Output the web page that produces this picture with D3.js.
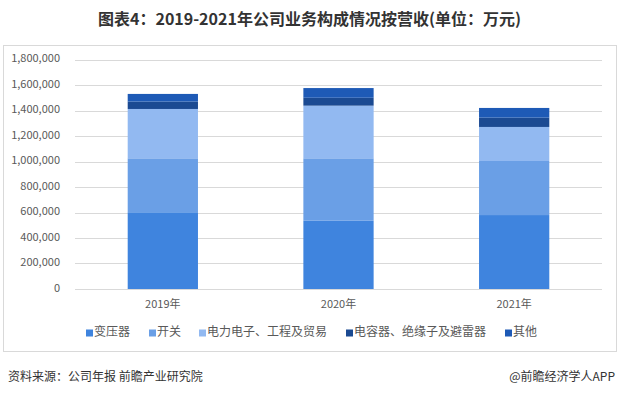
<!DOCTYPE html>
<html lang="zh">
  <head>
    <meta charset="UTF-8" />
    <title>图表4</title>
    <style>
      body { margin: 0; background: #fff; }
      svg text { font-family: "Microsoft YaHei", "Noto Sans CJK SC", sans-serif; }
    </style>
  </head>
  <body>
    <div class="chart"></div>
    <script src="https://d3js.org/d3.v7.min.js"></script>
    <script>
      // 数据（单位：万元）
      const years = ["2019年", "2020年", "2021年"];
      const seriesNames = ["变压器", "开关", "电力电子、工程及贸易", "电容器、绝缘子及避雷器", "其他"];
      const transformer = [602000, 535000, 580000];
      const switchgear = [423000, 490000, 424000];
      const powerElec = [387000, 413000, 267000];
      const capacitor = [58000, 62000, 73000];
      const others = [60000, 76000, 76000];
      const yTicks = [0, 200000, 400000, 600000, 800000, 1000000, 1200000, 1400000, 1600000, 1800000];
      const colors = ["#3f84de", "#6a9fe6", "#92b9f1", "#1b4a92", "#1e5ab6"];

      const rows = years.map((y, i) => ({
        year: y,
        [seriesNames[0]]: transformer[i],
        [seriesNames[1]]: switchgear[i],
        [seriesNames[2]]: powerElec[i],
        [seriesNames[3]]: capacitor[i],
        [seriesNames[4]]: others[i],
      }));

      const W = 619, H = 395;
      const svg = d3.select(".chart").append("svg").attr("width", W).attr("height", H);

      // 标题
      svg.append("text")
        .attr("x", W / 2).attr("y", 21)
        .attr("text-anchor", "middle").attr("dominant-baseline", "middle")
        .attr("font-size", 16).attr("font-weight", "bold").attr("fill", "#333")
        .text("图表4：2019-2021年公司业务构成情况按营收(单位：万元)");

      // 图表外框
      svg.append("rect")
        .attr("x", 3.5).attr("y", 45.5).attr("width", 613).attr("height", 306)
        .attr("fill", "none").attr("stroke", "#d9d9d9");

      const x = d3.scaleBand().domain(years).range([75, 602]).paddingInner(0.6).paddingOuter(0.3);
      const y = d3.scaleLinear().domain([0, 1800000]).range([289, 59.5]);

      // 网格线
      svg.append("g")
        .selectAll("line")
        .data(yTicks)
        .join("line")
        .attr("x1", 75).attr("x2", 602)
        .attr("y1", (d) => Math.round(y(d)) + 0.5).attr("y2", (d) => Math.round(y(d)) + 0.5)
        .attr("stroke", "#d9d9d9");

      // y 轴刻度
      const fmt = d3.format(",");
      svg.append("g")
        .selectAll("text")
        .data(yTicks)
        .join("text")
        .attr("x", 60).attr("y", (d) => y(d))
        .attr("text-anchor", "end").attr("dominant-baseline", "middle")
        .attr("font-size", 11).attr("fill", "#595959")
        .text((d) => fmt(d));

      // 堆叠柱
      const stack = d3.stack().keys(seriesNames)(rows);
      svg.append("g")
        .selectAll("g")
        .data(stack)
        .join("g")
        .attr("fill", (d, i) => colors[i])
        .selectAll("rect")
        .data((d) => d)
        .join("rect")
        .attr("x", (d) => x(d.data.year))
        .attr("width", x.bandwidth())
        .attr("y", (d) => y(d[1]))
        .attr("height", (d) => y(d[0]) - y(d[1]));

      // x 轴标签
      svg.append("g")
        .selectAll("text")
        .data(years)
        .join("text")
        .attr("x", (d) => x(d) + x.bandwidth() / 2).attr("y", 305)
        .attr("text-anchor", "middle").attr("dominant-baseline", "middle")
        .attr("font-size", 11).attr("fill", "#595959")
        .text((d) => d);

      // 图例
      const legendX = [86, 149, 199, 346, 505];
      const legend = svg.append("g")
        .selectAll("g")
        .data(seriesNames)
        .join("g")
        .attr("transform", (d, i) => `translate(${legendX[i]},333)`);
      legend.append("rect")
        .attr("x", 0).attr("y", -3.5).attr("width", 7).attr("height", 7)
        .attr("fill", (d, i) => colors[i]);
      legend.append("text")
        .attr("x", 8).attr("y", 0)
        .attr("dominant-baseline", "middle")
        .attr("font-size", 12).attr("fill", "#595959")
        .text((d) => d);

      // 来源
      svg.append("text")
        .attr("x", 8).attr("y", 378)
        .attr("dominant-baseline", "middle")
        .attr("font-size", 12).attr("fill", "#333")
        .text("资料来源：公司年报 前瞻产业研究院");
      svg.append("text")
        .attr("x", 615).attr("y", 378)
        .attr("text-anchor", "end").attr("dominant-baseline", "middle")
        .attr("font-size", 12).attr("fill", "#333")
        .text("@前瞻经济学人APP");
    </script>
  </body>
</html>
